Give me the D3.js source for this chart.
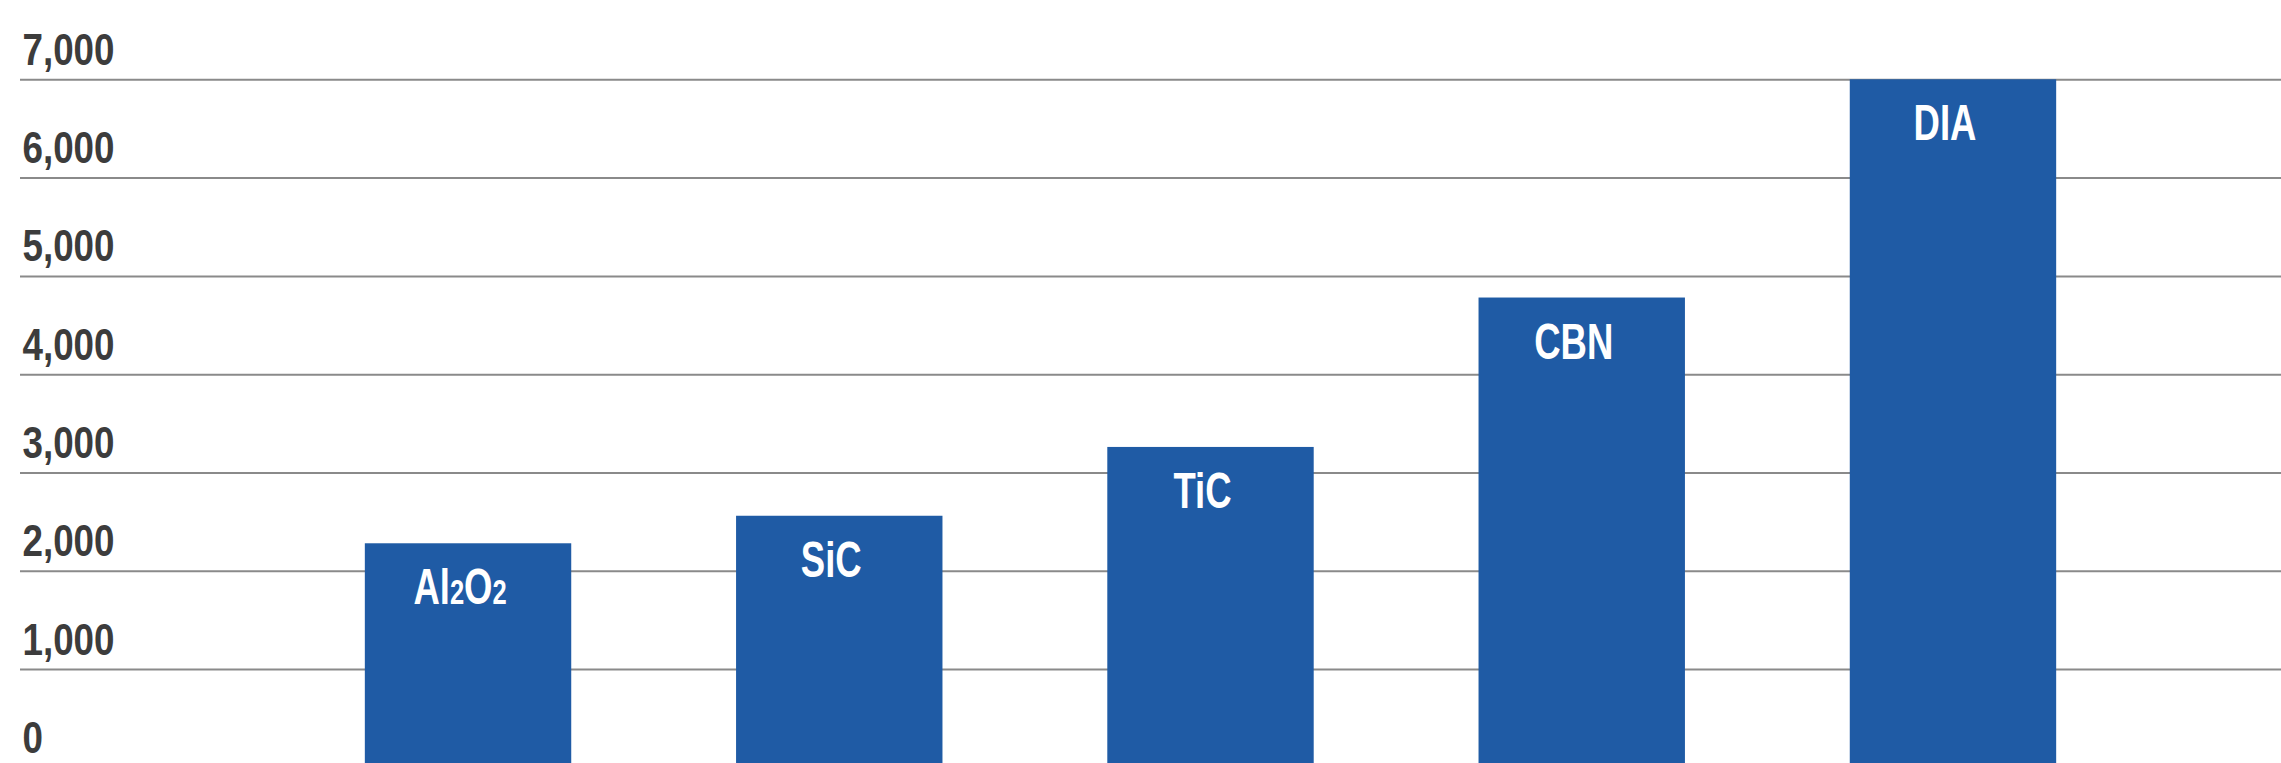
<!DOCTYPE html>
<html>
<head>
<meta charset="utf-8">
<script src="https://cdn.jsdelivr.net/npm/d3@7"></script>
<style>
  html, body { margin: 0; padding: 0; background: #ffffff; }
  svg { display: block; }
</style>
</head>
<body>
<div id="chart"></div>
<script>
// Hardness of abrasive materials (Knoop scale)
const categories = ["Al2O2", "SiC", "TiC", "CBN", "DIA"];
const hardness = [2280, 2560, 3260, 4780, 7000];
const tickValues = [0, 1000, 2000, 3000, 4000, 5000, 6000, 7000];

const width = 2281, height = 763;
const barColor = "#1f5ba5";
const gridColor = "#8a8a8a";
const axisTextColor = "#3c3c3c";
const fontFamily = "'Liberation Sans', Arial, sans-serif";

const svg = d3.select("#chart").append("svg")
  .attr("width", width)
  .attr("height", height);

const x = d3.scaleBand()
  .domain(categories)
  .range([200, 2221])
  .padding(0.444);

const y = d3.scaleLinear()
  .domain([0, 7000])
  .range([767.4, 79.3]);

// Gridlines with labels sitting above each line
const axis = d3.axisRight(y)
  .tickValues(tickValues)
  .tickSize(width - 20)
  .tickFormat(d3.format(","));

const axisG = svg.append("g")
  .attr("transform", "translate(20,0)")
  .call(axis);

axisG.select(".domain").remove();
axisG.selectAll(".tick line")
  .attr("stroke", gridColor)
  .attr("stroke-width", 2);
axisG.selectAll(".tick text")
  .attr("x", 3)
  .attr("y", -15)
  .attr("dy", null)
  .attr("text-anchor", "start")
  .attr("transform", "scale(0.836,1)")
  .attr("fill", axisTextColor)
  .style("font-family", fontFamily)
  .style("font-weight", "bold")
  .style("font-size", "44px");

// Bars
svg.append("g")
  .selectAll("rect")
  .data(categories)
  .join("rect")
  .attr("x", d => x(d))
  .attr("width", x.bandwidth())
  .attr("y", (d, i) => y(hardness[i]))
  .attr("height", (d, i) => y(0) - y(hardness[i]))
  .attr("fill", barColor);

// Category names inside the top of each bar; digits drawn as subscripts
const labels = svg.append("g")
  .selectAll("g")
  .data(categories)
  .join("g")
  .attr("transform", (d, i) =>
    `translate(${x(d) + x.bandwidth() / 2 - 8},${y(hardness[i]) + 61})`);

const labelText = labels.append("text")
  .attr("text-anchor", "middle")
  .attr("transform", "scale(0.73,1)")
  .attr("fill", "#ffffff")
  .style("font-family", fontFamily)
  .style("font-weight", "bold")
  .style("font-size", "50px");

labelText.each(function(d) {
  const t = d3.select(this);
  const parts = d.match(/[0-9]+|[^0-9]+/g);
  parts.forEach(p => {
    const span = t.append("tspan").text(p);
    if (/^[0-9]+$/.test(p)) span.style("font-size", "35px");
  });
});
</script>
</body>
</html>
